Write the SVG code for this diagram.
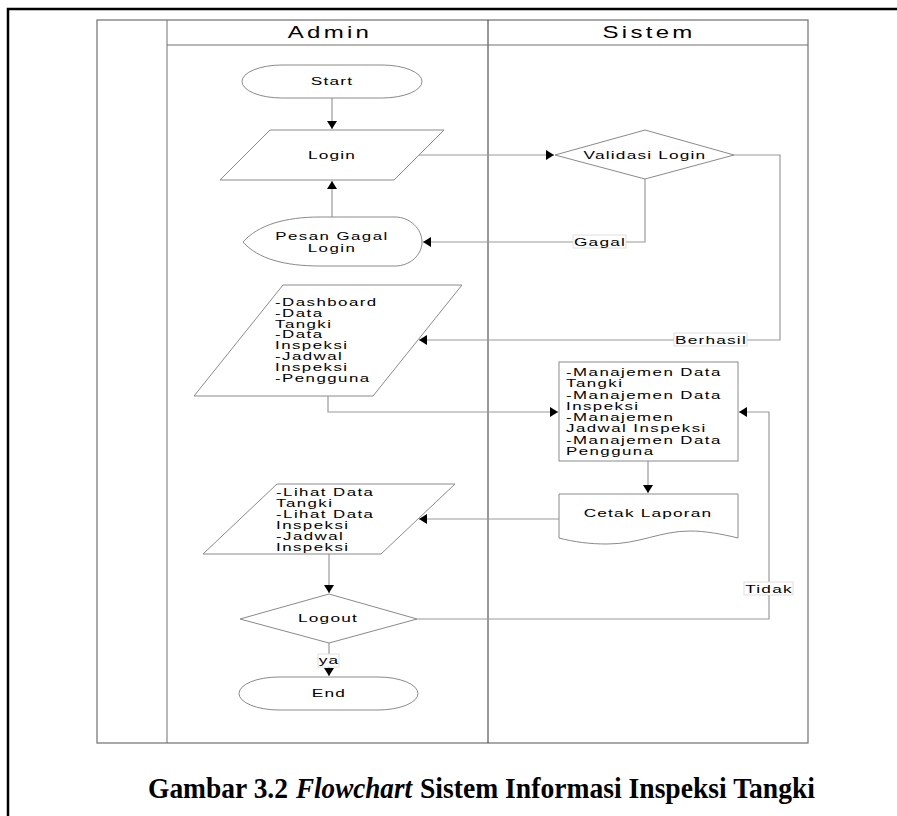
<svg xmlns="http://www.w3.org/2000/svg" width="897" height="816" viewBox="0 0 897 816">
<style>
.t{font-family:"Liberation Sans",Arial,sans-serif;font-size:11.5px;letter-spacing:0.8px;fill:#000}
.m{font-family:"Liberation Sans",Arial,sans-serif;font-size:10.4px;letter-spacing:0.9px;fill:#000}
.c{text-anchor:middle}
.h{font-family:"Liberation Sans",Arial,sans-serif;font-size:16px;letter-spacing:2.2px;text-anchor:middle;fill:#000}
.s{fill:#fff;stroke:#8a8a8a;stroke-width:1}
.ln{fill:none;stroke:#9a9a9a;stroke-width:1.2}
.lb{fill:#fff;stroke:#d8d8d8;stroke-width:0.8}
.cap{font-family:"Liberation Serif","Times New Roman",serif;font-size:30px;font-weight:bold;fill:#000}
</style>
<defs>
<marker id="a" markerUnits="userSpaceOnUse" markerWidth="9" markerHeight="10" refX="8" refY="5" orient="auto">
<path d="M0,0 L8,5 L0,10 Z" fill="#000"/>
</marker>
</defs>
<rect width="897" height="816" fill="#fff"/>
<rect x="8" y="9" width="900" height="820" fill="none" stroke="#000" stroke-width="2.5"/>

<g id="swimlane">
<rect x="97" y="20" width="711" height="723" fill="none" stroke="#707070" stroke-width="1.2"/>
<line x1="167" y1="20" x2="167" y2="743" stroke="#707070" stroke-width="1"/>
<line x1="488" y1="20" x2="488" y2="743" stroke="#333" stroke-width="1"/>
<line x1="167" y1="45" x2="808" y2="45" stroke="#707070" stroke-width="1"/>
<text class="h" transform="translate(330,38) scale(1.5,1)">Admin</text>
<text class="h" transform="translate(649,38) scale(1.5,1)">Sistem</text>
</g>

<g id="connectors">
<path class="ln" d="M332,98 V129" marker-end="url(#a)"/>
<path class="ln" d="M419,155 H554" marker-end="url(#a)"/>
<path class="ln" d="M332,217 V181" marker-end="url(#a)"/>
<path class="ln" d="M645,179 V242 H423" marker-end="url(#a)"/>
<path class="ln" d="M734,155 H780 V340 H419" marker-end="url(#a)"/>
<path class="ln" d="M328,396 V412 H558" marker-end="url(#a)"/>
<path class="ln" d="M648,461 V493" marker-end="url(#a)"/>
<path class="ln" d="M559,519 H419" marker-end="url(#a)"/>
<path class="ln" d="M329,554 V593" marker-end="url(#a)"/>
<path class="ln" d="M417,619 H769 V412 H739" marker-end="url(#a)"/>
<path class="ln" d="M329,643 V676" marker-end="url(#a)"/>
<rect class="lb" x="573" y="235" width="53" height="13"/>
<text class="t c" transform="translate(600,246) scale(1.5,1)">Gagal</text>
<rect class="lb" x="674" y="333" width="73" height="13"/>
<text class="t c" transform="translate(711,344) scale(1.5,1)">Berhasil</text>
<rect class="lb" x="744" y="582" width="49" height="13"/>
<text class="t c" transform="translate(769,593) scale(1.5,1)">Tidak</text>
<rect class="lb" x="318" y="654" width="21" height="13"/>
<text class="t c" transform="translate(329,664) scale(1.5,1)">ya</text>
</g>

<g id="start">
<rect class="s" x="242" y="65" width="180" height="33" rx="40" ry="16.5"/>
<text class="t c" transform="translate(332,85) scale(1.5,1)">Start</text>
</g>

<g id="login">
<path class="s" d="M270,130 H444 L394,180 H220 Z"/>
<text class="t c" transform="translate(332,159) scale(1.5,1)">Login</text>
</g>

<g id="validasi">
<path class="s" d="M645,130 L734,155 L645,179 L555,155 Z"/>
<text class="t c" transform="translate(645,159) scale(1.5,1)">Validasi Login</text>
</g>

<g id="pesan-gagal">
<path class="s" d="M243,242 C258,225 285,217 320,217 H395 C410,217 422,229 422,242 C422,255 410,266 395,266 H320 C285,266 258,259 243,242 Z"/>
<text class="m c" transform="translate(332,240) scale(1.62,1)">Pesan Gagal</text>
<text class="m c" transform="translate(332,251.5) scale(1.62,1)">Login</text>
</g>

<g id="dashboard">
<path class="s" d="M283,285 H462 L373,396 H194 Z"/>
<g transform="translate(275,0) scale(1.62,1)">
<text class="m" x="0" y="306">-Dashboard</text>
<text class="m" x="0" y="316.8">-Data</text>
<text class="m" x="0" y="327.6">Tangki</text>
<text class="m" x="0" y="338.4">-Data</text>
<text class="m" x="0" y="349.2">Inspeksi</text>
<text class="m" x="0" y="360">-Jadwal</text>
<text class="m" x="0" y="370.8">Inspeksi</text>
<text class="m" x="0" y="381.6">-Pengguna</text>
</g>
</g>

<g id="manajemen">
<rect class="s" x="559" y="362" width="179" height="99"/>
<g transform="translate(566,0) scale(1.62,1)">
<text class="m" x="0" y="376">-Manajemen Data</text>
<text class="m" x="0" y="387.3">Tangki</text>
<text class="m" x="0" y="398.6">-Manajemen Data</text>
<text class="m" x="0" y="409.9">Inspeksi</text>
<text class="m" x="0" y="421.2">-Manajemen</text>
<text class="m" x="0" y="432.5">Jadwal Inspeksi</text>
<text class="m" x="0" y="443.8">-Manajemen Data</text>
<text class="m" x="0" y="455.1">Pengguna</text>
</g>
</g>

<g id="cetak-laporan">
<path class="s" d="M559,494 H738 V538 C722,534 705,531 690,531 C660,531 640,544 607,544 C590,544 574,542 559,538 Z"/>
<text class="t c" transform="translate(648,517) scale(1.5,1)">Cetak Laporan</text>
</g>

<g id="lihat-data">
<path class="s" d="M277,484 H455 L381,554 H203 Z"/>
<g transform="translate(276,0) scale(1.62,1)">
<text class="m" x="0" y="496">-Lihat Data</text>
<text class="m" x="0" y="507">Tangki</text>
<text class="m" x="0" y="518">-Lihat Data</text>
<text class="m" x="0" y="529">Inspeksi</text>
<text class="m" x="0" y="540">-Jadwal</text>
<text class="m" x="0" y="551">Inspeksi</text>
</g>
</g>

<g id="logout">
<path class="s" d="M329,594 L417,619 L329,643 L240,619 Z"/>
<text class="t c" transform="translate(328,622) scale(1.5,1)">Logout</text>
</g>

<g id="end">
<rect class="s" x="239" y="677" width="179" height="33" rx="40" ry="16.5"/>
<text class="t c" transform="translate(329,697) scale(1.5,1)">End</text>
</g>

<g id="caption">
<text class="cap" x="148" y="798" textLength="140" lengthAdjust="spacingAndGlyphs">Gambar 3.2</text>
<text class="cap" x="296" y="798" font-style="italic" textLength="116" lengthAdjust="spacingAndGlyphs">Flowchart</text>
<text class="cap" x="420" y="798" textLength="395" lengthAdjust="spacingAndGlyphs">Sistem Informasi Inspeksi Tangki</text>
</g>
</svg>
